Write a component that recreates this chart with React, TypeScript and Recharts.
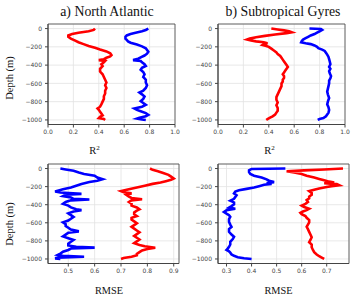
import { ScatterChart, Scatter, XAxis, YAxis, CartesianGrid, ReferenceArea } from "recharts";

// depth ticks shared by all panels
const depthTicks = [0, -200, -400, -600, -800, -1000];
const depthDomain: [number, number] = [-1050, 50];

const r2Ticks = [0, 0.2, 0.4, 0.6, 0.8, 1.0];
const naRmseTicks = [0.5, 0.6, 0.7, 0.8, 0.9];
const stRmseTicks = [0.3, 0.4, 0.5, 0.6, 0.7];

// a) North Atlantic, R2
const naR2RedDepth = [0, -15, -30, -45, -60, -75, -90, -110, -130, -150, -170, -190, -210, -230, -250, -270, -290, -305, -320, -335, -345, -355, -370, -390, -410, -440, -470, -500, -530, -560, -590, -620, -650, -680, -710, -740, -770, -800, -830, -855, -875, -890, -910, -930, -950, -965, -980, -990, -1000];
const naR2Red = [0.37, 0.36, 0.32, 0.24, 0.19, 0.16, 0.16, 0.18, 0.21, 0.24, 0.28, 0.32, 0.37, 0.41, 0.46, 0.49, 0.50, 0.49, 0.46, 0.44, 0.40, 0.45, 0.44, 0.42, 0.43, 0.41, 0.41, 0.43, 0.44, 0.45, 0.46, 0.45, 0.46, 0.45, 0.45, 0.44, 0.44, 0.43, 0.42, 0.41, 0.39, 0.40, 0.41, 0.42, 0.43, 0.41, 0.40, 0.44, 0.45];
const naR2BlueDepth = [0, -15, -30, -45, -60, -75, -90, -110, -125, -140, -155, -175, -195, -215, -235, -255, -275, -295, -315, -330, -345, -355, -370, -390, -410, -430, -450, -475, -500, -530, -560, -590, -620, -650, -680, -700, -720, -745, -770, -795, -815, -835, -855, -875, -890, -905, -925, -945, -960, -975, -985, -995, -1000];
const naR2Blue = [0.79, 0.77, 0.74, 0.69, 0.65, 0.62, 0.61, 0.61, 0.62, 0.63, 0.65, 0.70, 0.74, 0.77, 0.78, 0.79, 0.78, 0.76, 0.73, 0.71, 0.67, 0.73, 0.74, 0.76, 0.77, 0.74, 0.73, 0.75, 0.76, 0.75, 0.77, 0.77, 0.78, 0.77, 0.75, 0.72, 0.74, 0.76, 0.75, 0.73, 0.75, 0.77, 0.74, 0.68, 0.70, 0.73, 0.77, 0.79, 0.77, 0.72, 0.70, 0.74, 0.77];

// b) Subtropical Gyres, R2
const stR2RedDepth = [0, -10, -20, -30, -40, -50, -65, -80, -95, -110, -120, -130, -140, -150, -160, -170, -180, -190, -200, -220, -240, -260, -280, -300, -320, -340, -360, -380, -400, -420, -440, -460, -480, -500, -520, -540, -560, -580, -600, -630, -660, -690, -720, -750, -780, -810, -840, -870, -900, -920, -940, -960, -975, -990, -1000];
const stR2Red = [0.42, 0.47, 0.52, 0.56, 0.58, 0.54, 0.45, 0.37, 0.30, 0.25, 0.23, 0.26, 0.30, 0.36, 0.39, 0.36, 0.35, 0.38, 0.40, 0.42, 0.44, 0.46, 0.47, 0.49, 0.50, 0.51, 0.52, 0.53, 0.54, 0.55, 0.54, 0.53, 0.52, 0.51, 0.52, 0.52, 0.51, 0.51, 0.50, 0.50, 0.49, 0.48, 0.47, 0.46, 0.46, 0.47, 0.46, 0.47, 0.47, 0.46, 0.45, 0.43, 0.41, 0.39, 0.38];
const stR2BlueDepth = [0, -5, -15, -30, -45, -60, -75, -90, -105, -120, -135, -150, -160, -170, -185, -200, -215, -230, -245, -265, -285, -310, -335, -360, -390, -420, -440, -465, -490, -520, -545, -570, -600, -630, -660, -690, -720, -760, -800, -830, -860, -890, -920, -940, -960, -980, -990, -1000];
const stR2Blue = [0.72, 0.81, 0.82, 0.80, 0.78, 0.76, 0.73, 0.71, 0.69, 0.67, 0.66, 0.655, 0.69, 0.73, 0.76, 0.78, 0.79, 0.82, 0.84, 0.85, 0.86, 0.87, 0.875, 0.88, 0.885, 0.875, 0.885, 0.875, 0.88, 0.89, 0.885, 0.875, 0.875, 0.87, 0.865, 0.86, 0.865, 0.875, 0.865, 0.86, 0.87, 0.875, 0.87, 0.86, 0.85, 0.83, 0.80, 0.785];

// a) North Atlantic, RMSE
const naRmseBlueDepth = [0, -10, -25, -45, -60, -80, -100, -118, -135, -150, -170, -190, -210, -230, -245, -255, -265, -280, -290, -305, -320, -335, -342, -352, -370, -390, -410, -430, -450, -460, -475, -495, -515, -535, -555, -575, -595, -615, -635, -655, -675, -695, -710, -730, -750, -770, -790, -810, -830, -850, -865, -875, -885, -900, -920, -940, -955, -965, -975, -985, -993, -1000];
const naRmseBlue = [0.47, 0.49, 0.52, 0.54, 0.56, 0.60, 0.61, 0.63, 0.61, 0.58, 0.55, 0.53, 0.51, 0.48, 0.46, 0.45, 0.47, 0.55, 0.49, 0.48, 0.51, 0.52, 0.58, 0.51, 0.49, 0.48, 0.50, 0.51, 0.53, 0.55, 0.52, 0.50, 0.51, 0.52, 0.51, 0.50, 0.48, 0.49, 0.49, 0.50, 0.51, 0.54, 0.50, 0.49, 0.48, 0.50, 0.52, 0.51, 0.50, 0.50, 0.53, 0.60, 0.51, 0.50, 0.48, 0.47, 0.46, 0.48, 0.56, 0.46, 0.45, 0.47];
const naRmseRedDepth = [0, -15, -30, -50, -70, -90, -110, -125, -140, -155, -170, -190, -210, -230, -250, -262, -275, -290, -310, -325, -340, -352, -370, -390, -410, -430, -450, -465, -485, -505, -525, -545, -565, -585, -605, -625, -645, -665, -685, -705, -725, -745, -765, -785, -805, -825, -845, -860, -875, -890, -905, -925, -945, -960, -975, -990, -1000];
const naRmseRed = [0.81, 0.82, 0.84, 0.86, 0.88, 0.89, 0.90, 0.89, 0.87, 0.85, 0.82, 0.79, 0.76, 0.73, 0.70, 0.71, 0.74, 0.72, 0.73, 0.74, 0.78, 0.74, 0.73, 0.74, 0.74, 0.76, 0.77, 0.76, 0.75, 0.75, 0.76, 0.74, 0.74, 0.75, 0.76, 0.75, 0.74, 0.75, 0.76, 0.77, 0.76, 0.75, 0.76, 0.77, 0.76, 0.75, 0.77, 0.79, 0.83, 0.80, 0.78, 0.77, 0.76, 0.76, 0.74, 0.71, 0.70];

// b) Subtropical Gyres, RMSE
const stRmseBlueDepth = [0, -5, -20, -40, -60, -80, -100, -120, -135, -150, -160, -170, -180, -195, -210, -225, -240, -255, -275, -295, -315, -335, -355, -375, -395, -415, -432, -445, -462, -480, -498, -515, -535, -560, -590, -620, -645, -670, -700, -730, -755, -780, -810, -840, -865, -885, -900, -915, -930, -950, -965, -980, -992, -1000];
const stRmseBlue = [0.535, 0.40, 0.39, 0.39, 0.395, 0.41, 0.44, 0.46, 0.47, 0.49, 0.46, 0.48, 0.45, 0.43, 0.41, 0.38, 0.35, 0.335, 0.33, 0.34, 0.335, 0.33, 0.315, 0.33, 0.33, 0.32, 0.31, 0.335, 0.30, 0.29, 0.30, 0.31, 0.315, 0.31, 0.31, 0.315, 0.32, 0.31, 0.31, 0.32, 0.33, 0.325, 0.315, 0.315, 0.31, 0.305, 0.30, 0.31, 0.315, 0.32, 0.33, 0.345, 0.37, 0.40];
const stRmseRedDepth = [0, -10, -20, -30, -45, -60, -80, -100, -115, -130, -145, -155, -162, -172, -185, -195, -205, -220, -235, -250, -270, -290, -310, -330, -350, -370, -390, -410, -425, -445, -460, -475, -490, -505, -525, -545, -570, -595, -620, -645, -670, -700, -730, -760, -790, -815, -840, -870, -900, -925, -950, -970, -985, -1000];
const stRmseRed = [0.765, 0.69, 0.61, 0.54, 0.57, 0.60, 0.62, 0.65, 0.67, 0.69, 0.71, 0.73, 0.69, 0.74, 0.75, 0.72, 0.70, 0.67, 0.65, 0.63, 0.64, 0.64, 0.63, 0.63, 0.62, 0.625, 0.615, 0.60, 0.61, 0.63, 0.62, 0.605, 0.595, 0.60, 0.615, 0.62, 0.63, 0.63, 0.625, 0.62, 0.625, 0.63, 0.635, 0.64, 0.635, 0.63, 0.64, 0.64, 0.645, 0.65, 0.66, 0.67, 0.68, 0.69];

const toPoints = (xs: number[], depths: number[]) => xs.map((x, i) => ({ x, y: depths[i] }));

const Y_AXIS_W = 34;
const X_AXIS_H = 16;
const PAD = 2;
const PAD_RIGHT = 9;

const tickStyle = { fontSize: 6, fill: "#444", fontFamily: "DejaVu Sans" };
const fmtDepth = (v: number) => (v < 0 ? "\u2212" + Math.abs(v) : String(v));

interface PanelProps {
  x: number;
  y: number;
  w: number;
  h: number;
  xDomain: [number, number];
  xTicks: number[];
  red: { x: number; y: number }[];
  blue: { x: number; y: number }[];
}

const Panel = ({ x, y, w, h, xDomain, xTicks, red, blue }: PanelProps) => (
  <div style={{ position: "absolute", left: x - Y_AXIS_W, top: y - PAD }}>
    <ScatterChart
      width={w + Y_AXIS_W + PAD_RIGHT}
      height={h + X_AXIS_H + PAD}
      margin={{ top: PAD, right: PAD_RIGHT, bottom: 0, left: 0 }}
    >
      <CartesianGrid stroke="#e2e2e2" strokeWidth={0.8} />
      <XAxis
        type="number"
        dataKey="x"
        domain={xDomain}
        ticks={xTicks}
        interval={0}
        allowDataOverflow
        height={X_AXIS_H}
        tick={tickStyle}
        tickSize={3}
        tickMargin={2}
        stroke="#444"
        tickFormatter={(v: number) => v.toFixed(1)}
      />
      <YAxis
        type="number"
        dataKey="y"
        domain={depthDomain}
        ticks={depthTicks}
        interval={0}
        allowDataOverflow
        width={Y_AXIS_W}
        tick={tickStyle}
        tickSize={3}
        tickMargin={3}
        stroke="#444"
        tickFormatter={fmtDepth}
      />
      <ReferenceArea
        x1={xDomain[0]}
        x2={xDomain[1]}
        y1={depthDomain[0]}
        y2={depthDomain[1]}
        fill="none"
        stroke="#444"
        strokeWidth={0.8}
        ifOverflow="visible"
      />
      <Scatter data={red} fill="#ff0000" line={{ stroke: "#ff0000", strokeWidth: 2.6 }} shape={() => <g />} isAnimationActive={false} />
      <Scatter data={blue} fill="#0000ff" line={{ stroke: "#0000ff", strokeWidth: 2.6 }} shape={() => <g />} isAnimationActive={false} />
    </ScatterChart>
  </div>
);

const serif = "'Liberation Serif', 'Times New Roman', serif";

export default function App() {
  return (
    <div style={{ position: "absolute", left: 0, top: 0, width: 355, height: 296, background: "#fff", overflow: "hidden" }}>
      <svg width={355} height={296} style={{ position: "absolute", left: 0, top: 0 }}>
        <g fontFamily={serif} fill="#111">
          <text x={107} y={15.5} fontSize={13.8} textAnchor="middle">a) North Atlantic</text>
          <text x={283} y={15.5} fontSize={13.8} textAnchor="middle">b) Subtropical Gyres</text>
          <text x={94.5} y={154} fontSize={10.5} textAnchor="middle">R<tspan dy={-4} fontSize={7}>2</tspan></text>
          <text x={269.5} y={154} fontSize={10.5} textAnchor="middle">R<tspan dy={-4} fontSize={7}>2</tspan></text>
          <text x={109} y={293.5} fontSize={10.3} textAnchor="middle">RMSE</text>
          <text x={278.5} y={293.5} fontSize={10.3} textAnchor="middle">RMSE</text>
          <text x={12.5} y={78} fontSize={10.5} textAnchor="middle" transform="rotate(-90 12.5 78)">Depth (m)</text>
          <text x={12.5} y={224} fontSize={10.5} textAnchor="middle" transform="rotate(-90 12.5 224)">Depth (m)</text>
        </g>
      </svg>
      <Panel x={47.5} y={23.5} w={127} h={100.5} xDomain={[0, 1]} xTicks={r2Ticks}
        red={toPoints(naR2Red, naR2RedDepth)} blue={toPoints(naR2Blue, naR2BlueDepth)} />
      <Panel x={217.5} y={23.5} w={127} h={100.5} xDomain={[0, 1]} xTicks={r2Ticks}
        red={toPoints(stR2Red, stR2RedDepth)} blue={toPoints(stR2Blue, stR2BlueDepth)} />
      <Panel x={47.5} y={163.5} w={131} h={99.5} xDomain={[0.423, 0.92]} xTicks={naRmseTicks}
        red={toPoints(naRmseRed, naRmseRedDepth)} blue={toPoints(naRmseBlue, naRmseBlueDepth)} />
      <Panel x={217.5} y={163.5} w={131} h={99.5} xDomain={[0.266, 0.789]} xTicks={stRmseTicks}
        red={toPoints(stRmseRed, stRmseRedDepth)} blue={toPoints(stRmseBlue, stRmseBlueDepth)} />
    </div>
  );
}
